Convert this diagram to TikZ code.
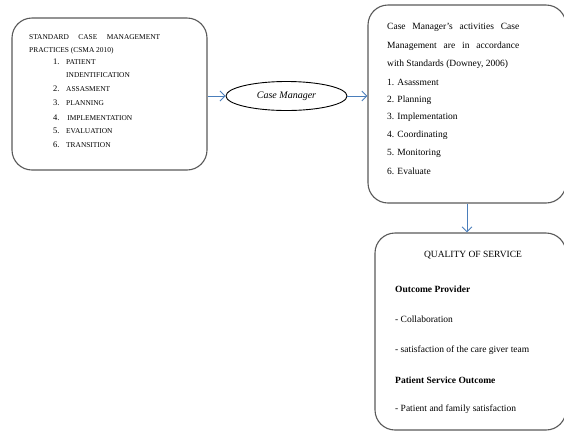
\documentclass[tikz,border=0pt]{standalone}
\usepackage{fontspec}
\setmainfont{Liberation Serif}
\usetikzlibrary{arrows.meta,shapes.geometric}
\definecolor{boxgray}{RGB}{89,89,89}
\definecolor{linkblue}{RGB}{74,126,187}

\begin{document}
\begin{tikzpicture}[x=1pt, y=-1pt, >={Straight Barb[length=5pt,width=10pt]},
    box/.style={draw=boxgray, line width=1.1pt, rounded corners=20pt},
    link/.style={->, draw=linkblue, line width=0.9pt},
    caps/.style={anchor=west, inner sep=0pt, font=\fontsize{7.4}{9}\selectfont},
    txt/.style={anchor=west, inner sep=0pt, font=\fontsize{9.5}{11}\selectfont}]
        \useasboundingbox (0,0) rectangle (564,432);
        \clip (0,0) rectangle (564,432);

        % Nodes
        \node[box, minimum width=195pt, minimum height=152pt] (std) at (109.5,94) {};
        \node[ellipse, draw, line width=0.9pt, minimum width=121pt, minimum height=29pt,
              inner sep=0pt, font=\fontsize{10}{12}\selectfont\itshape] (cm) at (286.5,96) {Case Manager};
        \node[box, minimum width=198pt, minimum height=198pt] (act) at (467,104) {};
        \node[box, minimum width=191pt, minimum height=197pt] (qos) at (470.5,331.5) {};

        % Edges
        \draw[link] (std.east |- cm.west) -- (cm.west);
        \draw[link] (cm.east) -- (cm.east -| act.west);
        \draw[link] (act.south) -- (act.south |- qos.north);

        % Labels
        \node[caps] at (29,37) {\makebox[131pt][s]{STANDARD CASE MANAGEMENT}};
        \node[caps] at (29,51) {PRACTICES (CSMA 2010)};
        \foreach \n/\y/\t in {1/62/PATIENT, 2/89/ASSASMENT, 3/103/PLANNING,
                              4/118/{\,IMPLEMENTATION}, 5/131/EVALUATION, 6/145/TRANSITION} {
            \node[caps, font=\fontsize{8.5}{9}\selectfont] at (53,\y) {\n.};
            \node[caps] at (66,\y) {\t};
        }
        \node[caps] at (66,75) {INDENTIFICATION};

        \node[txt] at (387,27) {\makebox[132pt][s]{Case Manager's activities Case}};
        \node[txt] at (387,46) {\makebox[132pt][s]{Management are in accordance}};
        \node[txt] at (387,64) {with Standards (Downey, 2006)};
        \foreach \t [count=\i] in {Asassment, Planning, Implementation, Coordinating, Monitoring, Evaluate}
            \node[txt] at (387,{82+17.8*(\i-1)}) {\i. \t};

        \node[txt, anchor=center] at (473,255) {QUALITY OF SERVICE};
        \node[txt, font=\fontsize{9.5}{11}\selectfont\bfseries] at (395,289) {Outcome Provider};
        \node[txt] at (395,319) {- Collaboration};
        \node[txt] at (395,350) {- satisfaction of the care giver team};
        \node[txt, font=\fontsize{9.5}{11}\selectfont\bfseries] at (395,380) {Patient Service Outcome};
        \node[txt] at (395,409) {- Patient and family satisfaction};
    \end{tikzpicture}
\end{document}
